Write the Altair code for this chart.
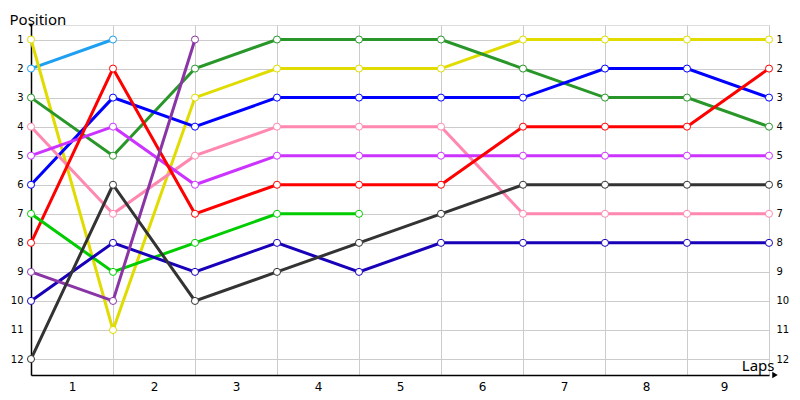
import altair as alt
import pandas as pd

laps = [0, 1, 2, 3, 4, 5, 6, 7, 8, 9]

drivers = ["A", "B", "C", "D", "E", "F", "G", "H", "I", "J", "K"]
colors = ["#1ea0f0", "#e0dc00", "#289628", "#0000ff", "#ff88b0", "#cc33ff",
          "#ff0000", "#00cc00", "#1800b8", "#8a35a5", "#333333"]

pos_A = [2, 1]
pos_B = [1, 11, 3, 2, 2, 2, 1, 1, 1, 1]
pos_C = [3, 5, 2, 1, 1, 1, 2, 3, 3, 4]
pos_D = [6, 3, 4, 3, 3, 3, 3, 2, 2, 3]
pos_E = [4, 7, 5, 4, 4, 4, 7, 7, 7, 7]
pos_F = [5, 4, 6, 5, 5, 5, 5, 5, 5, 5]
pos_G = [8, 2, 7, 6, 6, 6, 4, 4, 4, 2]
pos_H = [7, 9, 8, 7, 7]
pos_I = [10, 8, 9, 8, 9, 8, 8, 8, 8, 8]
pos_J = [9, 10, 1]
pos_K = [12, 6, 10, 9, 8, 7, 6, 6, 6, 6]

series = [pos_A, pos_B, pos_C, pos_D, pos_E, pos_F, pos_G, pos_H, pos_I, pos_J, pos_K]

rows = []
for d, s in zip(drivers, series):
    for lap, p in zip(laps, s):
        rows.append({"driver": d, "lap": lap, "pos": p})
df = pd.DataFrame(rows)

FONT = "DejaVu Sans"
TFONT = "Noto Sans"

xscale = alt.Scale(domain=[0, 9], nice=False, zero=False)
yscale = alt.Scale(domain=[0.5, 12.55], reverse=True, nice=False, zero=False)
cscale = alt.Scale(domain=drivers, range=colors)

x_enc = alt.X("lap:Q", scale=xscale,
              axis=alt.Axis(values=laps, grid=True, gridColor="#cccccc",
                            ticks=False, domain=True, domainColor="black",
                            domainWidth=1.5,
                            labelExpr="datum.value == 0 ? '' : datum.value",
                            labelOffset=-41, labelPadding=6, labelFontSize=12,
                            labelFont=FONT, labelColor="black",
                            title="Laps", titleFont=TFONT, titleFontSize=15,
                            titleFontWeight="normal", titleAlign="right",
                            titleBaseline="alphabetic", titleAngle=0,
                            titleX=743, titleY=-5, titleColor="black"))

y_left = alt.Y("pos:Q", scale=yscale,
               axis=alt.Axis(orient="left", values=list(range(1, 13)), grid=True,
                             gridColor="#cccccc", ticks=False, domain=True,
                             domainColor="black", domainWidth=1.5,
                             labelPadding=8, labelFontSize=10, labelFont=FONT,
                             labelColor="black",
                             title="Position", titleFont=TFONT, titleFontSize=15,
                             titleFontWeight="normal", titleAngle=0,
                             titleAlign="left", titleBaseline="alphabetic",
                             titleX=-22, titleY=-1, titleColor="black"))

y_right = alt.Y("pos:Q", scale=yscale,
                axis=alt.Axis(orient="right", values=list(range(1, 13)),
                              grid=False, ticks=False, domain=False,
                              labelPadding=7, labelFontSize=10, labelFont=FONT,
                              labelColor="black", title=None))

lines = alt.Chart(df).mark_line(strokeWidth=3).encode(
    x=x_enc,
    y=y_left,
    color=alt.Color("driver:N", scale=cscale, legend=None),
    detail="driver:N",
)

points = alt.Chart(df).mark_point(filled=True, fill="white", size=50,
                                  strokeWidth=1, opacity=1).encode(
    x=alt.X("lap:Q", scale=xscale),
    y=y_right,
    stroke=alt.Stroke("driver:N", scale=cscale, legend=None),
)

arrow = alt.Chart(pd.DataFrame({"a": [0]})).mark_point(
    shape="triangle-right", filled=True, color="black", size=40, opacity=1
).encode(x=alt.value(744), y=alt.value(350))

topdot = alt.Chart(pd.DataFrame({"a": [0]})).mark_point(
    shape="circle", filled=True, color="black", size=10, opacity=1
).encode(x=alt.value(0), y=alt.value(0))

chart = alt.layer(lines, points, arrow, topdot).resolve_axis(
    y="independent"
).properties(
    width=738, height=350,
    autosize=alt.AutoSizeParams(type="none"),
    padding={"left": 23, "top": 17, "right": 23, "bottom": 17},
).configure_view(stroke=None).configure(background="white")

chart.save("out.html", embed_options={"renderer": "svg", "actions": False})
